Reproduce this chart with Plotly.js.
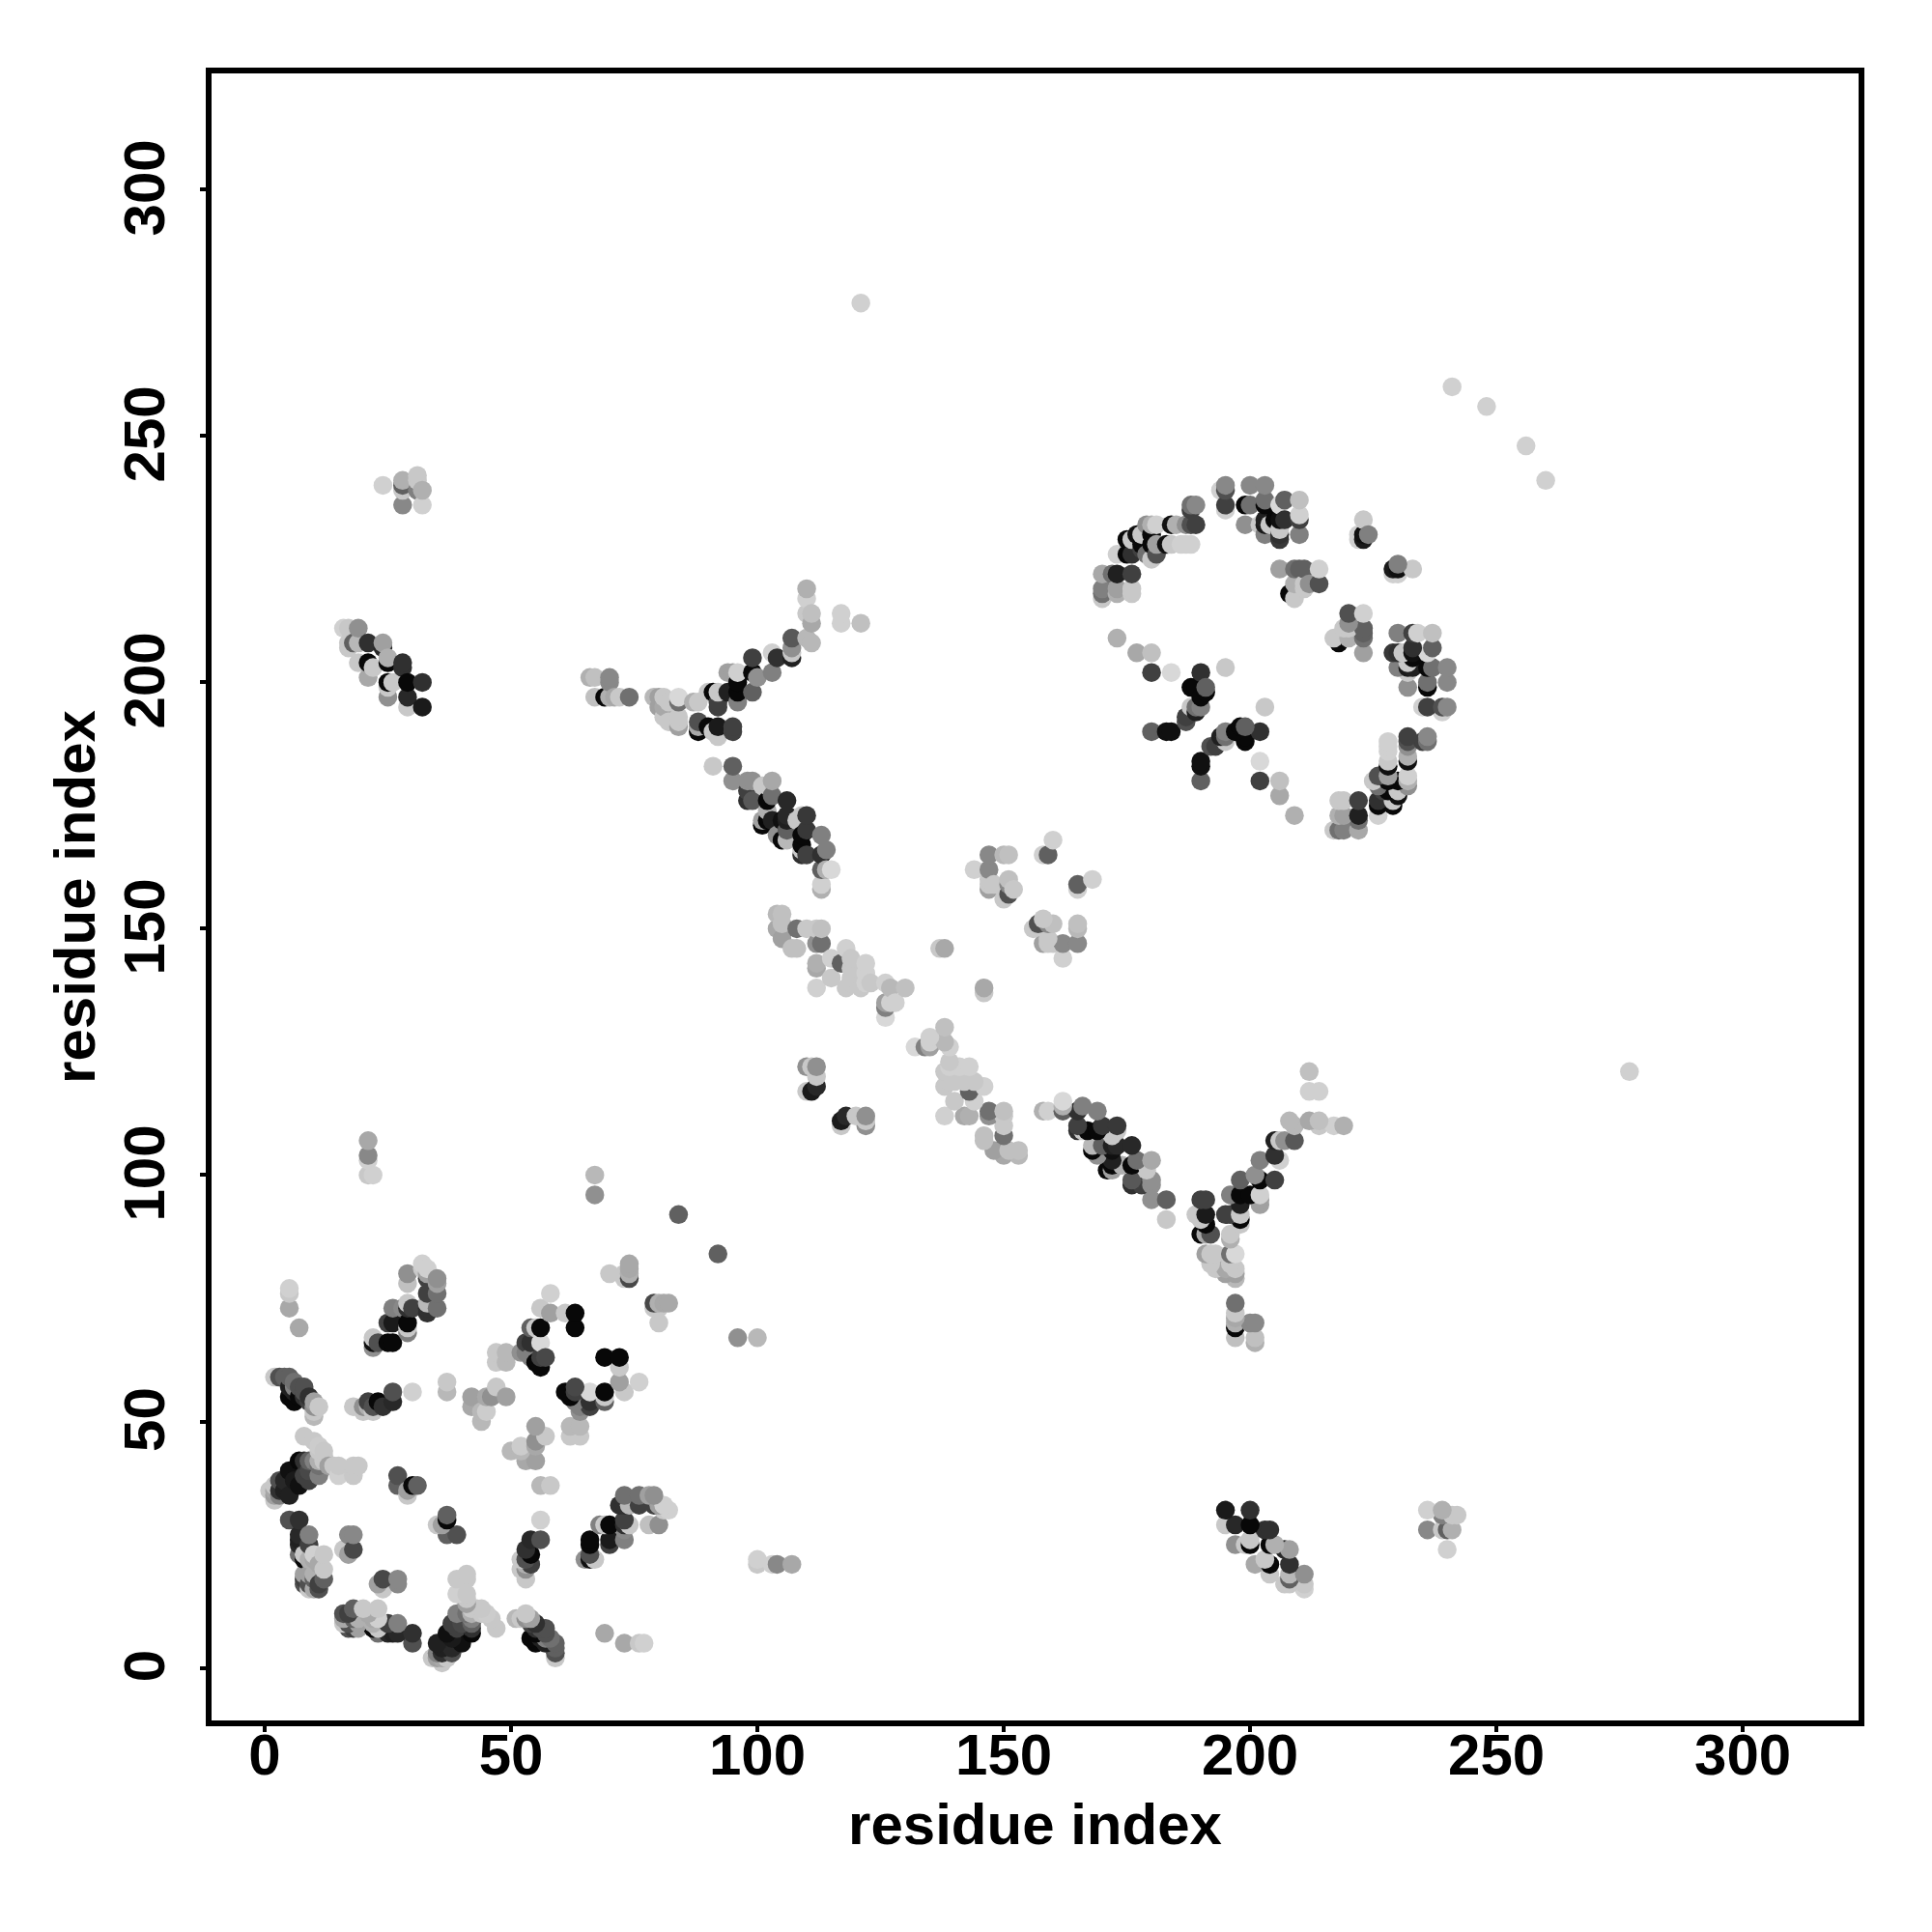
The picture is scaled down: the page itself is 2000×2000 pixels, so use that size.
<!DOCTYPE html>
<html>
<head>
<meta charset="utf-8">
<script src="https://cdn.plot.ly/plotly-3.0.1.min.js"></script>
<style>html,body{margin:0;padding:0;background:#fff}</style>
</head>
<body>
<div id="chart" style="width:2000px;height:2000px"></div>
<script>
// Each row: one low residue index, the residues it contacts, and their grey levels.
const lowIndex = [1,2,3,4,5,6,7,8,9,10,11,12,13,14,15,16,17,18,19,20,21,22,23,24,25,26,27,28,29,30,31,32,33,35,37,42,44,45,46,47,49,52,53,54,55,56,57,58,61,63,66,67,69,70,71,72,73,74,79,80,81,82,84,87,88,90,91,92,94,95,96,98,99,100,101,102,103,104,105,106,107,108,109,110,111,112,113,114,115,117,118,119,121,122,123,126,127,128,130,137,138,144,147,148,150,151,152,158,159,160,170,172,173,175,176,177,178,179,180,181,183,184,185,186,187,188,189,190,191,194,195,199,200,202,203,204,205,206,207,208,209,210,211,212,214,222,223,224,241,248];
const highIndex = [
[36],[37,34,59,36,35],[36,59,38,35],[38,59,36],[73,76,77,30,40,35,59,57,55],[38,58,56,57,54],
[42,37,30,27,26,25,23,55,57,69],[47,42,39,22,23,19,18,17,57,56,55],[42,40,38,27,25,22,19,17,16,54,55],
[46,42,22,19,18,16,23,51,53,52,54],[45,44,42,41,39,21,17,16,53],[44,43,42,23,20,18],[41],[41],[39,41],
[24,211],[27,23,207,208,211],[53,41,39,27,24,208],[41,204,208,211],[53,52],
[107,104,103,100,54,53,201,204,208],[100,67,66,65,53,52,203],[66,54],[53,207,208,240],
[70,66,197,199,200,204,205],[73,70,66,56,54,200],[39,37],[73,201,203,204,236,239,240,241],
[80,78,74,73,70,69,68,36,35,197,195,200],[73,56,37],[37,239,241,242],[82,81,195,200,236,239],
[81,80,79,76,74,73,72],[79,78,76,73],[58,56],[55,53],[52,50],[55,52],[55],[64,62,57],[64,62,55],[64],
[66,64],[69,66,63],[69,62],[73,69,66,63,61],[63],[76,72],[72],[72,69],[201],[201,197,100,96],[197],
[201,200,197,80],[197],[197],[80,79],[197,82,81,80,79],[197],[197,195],[197,195,193],[196,192],
[196,197,193,192,191,92],[196],[196,192,191,190],[198,191],[198,190,183],[198,196,195,191,189],[202,198],
[202,191,190,183,180],[202,200,198,196],[180,178,176],[205,202,198,180,176],[201],[179,172,171],
[179,176,174,172],[206,202,180,177,172],[205,169,153,150],[172,168,153,151,148],[176,173,172,170,168],
[209,207,206,205,146],[172,150,146],[173,169,167,166,165],[219,217,214,209,173,170,165,150,122,117],
[214,212,208,122,117],[150,147,143,142,138,122,120,118],[169,165,162,159,158,150,147],[166,162],
[162,144,140],[214,212,143],[146,138],[144,142,140,139],[277,212,138],[143,141,139],[139],
[139,135,134,132],[138,135],[135],[138],[146],[146],[162],[165,162,160,159,158],[159],[165,156],
[165,160,159,157],[158],[165],[165],[168],[222,219,218,217],[222],[226,222,219,218,209],[229,226],
[229,226,222,219,218],[230,206],[230,228,227],[232,226],[232,230,228,225,206,202,190],[232,228,226],
[228,190],[232,228,202,190],[232],[228],[232,228,193,192],[236,235,232,228,199,195],[236,232,199,195,194],
[202,197,195],[199,198],[239],[240,239,236,235,203],[236,232],[240,236],[232],[240,237,236,233,232,230],
[232],[233],[236,233,231,230,229,223],[237,233],[218],[223,220,217],[237,234,233,230,223],[223,220,219],
[220],[223,220],[230,229],[233,230,229],[230],[260],[256]
];
const greyLevel = [
[200],[200,200,200,168,160],[48,80,80,128],[40,96,32],[168,200,208,80,16,32,96,32,8],[26,112,32,128,8],
[8,16,48,40,32,40,112,8,80,168],[200,48,64,8,200,160,64,80,80,80,48],[96,72,64,128,64,176,160,80,200,64,48],
[200,128,168,176,96,168,208,184,144,200,160],[204,200,176,112,128,168,64,80,200],[200,200,200,200,200,96],[160],[200],[208,200],
[200,208],[136,160,200,200,200],[200,200,200,136,72,96],[200,200,184,144],[144,200],
[168,136,208,200,64,176,168,8,48],[208,200,16,144,80,200,200],[80,8],[48,40,160,208],
[64,8,144,200,8,8,176],[128,26,8,80,40,200],[80,96],[136,200,48,48,136,200,96,176],
[144,192,200,48,8,200,128,160,200,40,200,8],[64,208,8],[96,128,200,200],[208,200,26,48,208,176],
[208,160,64,64,184,48,48],[144,160,112,112],[200,184],[160,168],[184,184],[168,204],[144],[200,200,200],[184,184,160],[144],
[64,128],[96,48,128],[200,8],[200,8,216,64,8],[72],[208,160],[200],[8,8],[176],[192,192,184,144],[8],
[136,136,176,200],[168],[200],[200,200],[112,168,168,176,72],[184],[160,160],[200,168,200],[200,200],
[112,216,200,200,160,96],[176],[200,80,168,8],[200,8],[8,200,200],[200,64,64,26,200],[160,32],
[160,64,64,96,144],[208,8,8,128],[144,64,48],[64,8,96,144,88],[144],[200,160,8],
[200,8,176,8],[208,128,168,112,32],[48,144,184,168],[16,8,192,192,160],[40,40,32,96,184],
[88,144,200,32,192],[200,112,192],[200,8,8,200,48],[176,208,200,184,56,56,64,200,144,200],
[192,168,184,200,26],[200,144,176,168,208,144,200,40],[128,48,96,208,176,192,112],[128,176],
[216,208,200],[208,208,96],[208,200],[200,200,200,200],[208,192,200],[208,208,208],[200],
[208,160,128,216],[184,208],[208],[192],[200],[168],[208],[136,136,200,200,160],[200],[184,200],
[192,192,136,80],[200],[208],[96],[208],[168,128,112,200],[112],[208,32,160,176,176],[8,8],
[200,48,64,200,200],[16,168],[200,8,64],[144,112],[176,8,8,200,192,64,96],[208,160,80],
[16,16],[16,200,216,16],[176],[208],[144,208,64,80],[112,64,80,208,8,200],[136,64,8,112,32],
[48,8,128],[96,8],[208],[136,80,64,208,200],[8,144],[136,112],[200],[136,112,8,32,26,128],
[200],[8],[216,16,200,48,56,160],[96,48],[8],[112,176,200],[192,208,64,128,96],[96,200,200],
[144],[208,80],[208,208],[200,16,26],[128],[208],[208]
];
const tickValues = [0,50,100,150,200,250,300];
const axisLabel = 'residue index';

// Flatten the rows, keep the drawing order by low residue then high residue.
const contacts = [];
lowIndex.forEach((low, r) => highIndex[r].forEach((high, k) => contacts.push([low, high, greyLevel[r][k]])));
contacts.sort((a, b) => a[0] - b[0] || a[1] - b[1]);

// A contact map is symmetric: (low, high) appears also as (high, low).
const xs = [], ys = [], cs = [];
contacts.forEach(c => {
  const col = 'rgb(' + c[2] + ',' + c[2] + ',' + c[2] + ')';
  xs.push(c[0]); ys.push(c[1]); cs.push(col);
  xs.push(c[1]); ys.push(c[0]); cs.push(col);
});

const fontFam = '"Liberation Sans", Arial, sans-serif';
const baseAxis = {
  tickmode: 'array', tickvals: tickValues, ticktext: tickValues.map(String),
  ticks: 'outside', ticklen: 6, tickwidth: 4, tickcolor: '#000',
  showline: true, linecolor: '#000', linewidth: 6, mirror: true,
  showgrid: false, zeroline: false,
  tickfont: {family: fontFam, size: 60, color: '#000', weight: 'bold'}
};
const layout = {
  width: 2000, height: 2000,
  paper_bgcolor: '#fff', plot_bgcolor: '#fff',
  showlegend: false,
  margin: {l: 219, r: 76, t: 76, b: 219, pad: 0},
  xaxis: Object.assign({}, baseAxis, {
    range: [-10.78, 323.5], ticklabelstandoff: -28,
    title: {text: '<b>' + axisLabel + '</b>', standoff: 20, font: {family: fontFam, size: 60, color: '#000'}}
  }),
  yaxis: Object.assign({}, baseAxis, {
    range: [-10.68, 323.6], tickangle: -90, ticklabelstandoff: 13, ticklabelshift: 7,
    title: {text: '<b>' + axisLabel + '</b>', standoff: 0, font: {family: fontFam, size: 60, color: '#000'}}
  })
};
Plotly.newPlot('chart', [{
  type: 'scatter', mode: 'markers', x: xs, y: ys, cliponaxis: true,
  marker: {size: 19.5, color: cs, line: {width: 0}},
  hoverinfo: 'skip'
}], layout, {displayModeBar: false, responsive: false});
</script>
</body>
</html>
